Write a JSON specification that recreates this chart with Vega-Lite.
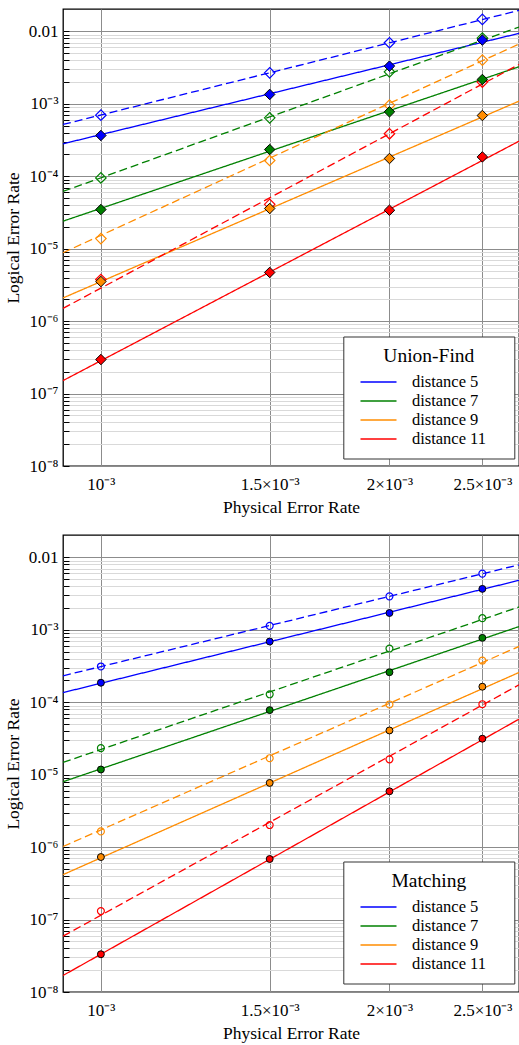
{
  "$schema": "https://vega.github.io/schema/vega-lite/v6.json",
  "padding": {"left": 3, "top": 7, "right": 0, "bottom": 5},
  "autosize": {"type": "pad"},
  "bounds": "flush",
  "spacing": 69,
  "config": {
    "font": "Liberation Serif",
    "view": {"stroke": "black", "strokeWidth": 1.3},
    "axis": {
      "labelFont": "Liberation Serif",
      "titleFont": "Liberation Serif",
      "labelColor": "black",
      "titleColor": "black",
      "titleFontWeight": "normal",
      "labelOverlap": false,
      "labelFlush": false
    },
    "legend": {
      "labelFont": "Liberation Serif",
      "titleFont": "Liberation Serif"
    }
  },
  "resolve": {"scale": {"color": "independent", "fill": "independent", "stroke": "independent"}, "legend": {"color": "independent"}},
  "datasets": {
    "lines": [
      {"panel": "UF", "dist": "distance 5", "style": "solid", "p": 0.000913, "rate": 2.81e-4},
      {"panel": "UF", "dist": "distance 5", "style": "solid", "p": 0.00273, "rate": 9.4e-3},
      {"panel": "UF", "dist": "distance 5", "style": "dashed", "p": 0.000913, "rate": 5.19e-4},
      {"panel": "UF", "dist": "distance 5", "style": "dashed", "p": 0.00273, "rate": 1.95e-2},
      {"panel": "UF", "dist": "distance 7", "style": "solid", "p": 0.000913, "rate": 2.4e-5},
      {"panel": "UF", "dist": "distance 7", "style": "solid", "p": 0.00273, "rate": 3.25e-3},
      {"panel": "UF", "dist": "distance 7", "style": "dashed", "p": 0.000913, "rate": 6.17e-5},
      {"panel": "UF", "dist": "distance 7", "style": "dashed", "p": 0.00273, "rate": 1.15e-2},
      {"panel": "UF", "dist": "distance 9", "style": "solid", "p": 0.000913, "rate": 2.09e-6},
      {"panel": "UF", "dist": "distance 9", "style": "solid", "p": 0.00273, "rate": 1.09e-3},
      {"panel": "UF", "dist": "distance 9", "style": "dashed", "p": 0.000913, "rate": 8.8e-6},
      {"panel": "UF", "dist": "distance 9", "style": "dashed", "p": 0.00273, "rate": 6.7e-3},
      {"panel": "UF", "dist": "distance 11", "style": "solid", "p": 0.000913, "rate": 1.51e-7},
      {"panel": "UF", "dist": "distance 11", "style": "solid", "p": 0.00273, "rate": 3.05e-4},
      {"panel": "UF", "dist": "distance 11", "style": "dashed", "p": 0.000913, "rate": 1.5e-6},
      {"panel": "UF", "dist": "distance 11", "style": "dashed", "p": 0.00273, "rate": 3.5e-3},
      {"panel": "M", "dist": "distance 5", "style": "solid", "p": 0.000913, "rate": 1.36e-4},
      {"panel": "M", "dist": "distance 5", "style": "solid", "p": 0.00273, "rate": 4.83e-3},
      {"panel": "M", "dist": "distance 5", "style": "dashed", "p": 0.000913, "rate": 2.32e-4},
      {"panel": "M", "dist": "distance 5", "style": "dashed", "p": 0.00273, "rate": 7.9e-3},
      {"panel": "M", "dist": "distance 7", "style": "solid", "p": 0.000913, "rate": 8.0e-6},
      {"panel": "M", "dist": "distance 7", "style": "solid", "p": 0.00273, "rate": 1.11e-3},
      {"panel": "M", "dist": "distance 7", "style": "dashed", "p": 0.000913, "rate": 1.48e-5},
      {"panel": "M", "dist": "distance 7", "style": "dashed", "p": 0.00273, "rate": 2.07e-3},
      {"panel": "M", "dist": "distance 9", "style": "solid", "p": 0.000913, "rate": 4.17e-7},
      {"panel": "M", "dist": "distance 9", "style": "solid", "p": 0.00273, "rate": 2.58e-4},
      {"panel": "M", "dist": "distance 9", "style": "dashed", "p": 0.000913, "rate": 1.02e-6},
      {"panel": "M", "dist": "distance 9", "style": "dashed", "p": 0.00273, "rate": 5.9e-4},
      {"panel": "M", "dist": "distance 11", "style": "solid", "p": 0.000913, "rate": 1.69e-8},
      {"panel": "M", "dist": "distance 11", "style": "solid", "p": 0.00273, "rate": 5.85e-5},
      {"panel": "M", "dist": "distance 11", "style": "dashed", "p": 0.000913, "rate": 5.9e-8},
      {"panel": "M", "dist": "distance 11", "style": "dashed", "p": 0.00273, "rate": 1.74e-4}
    ],
    "points": [
      {"panel": "UF", "dist": "distance 5", "kind": "filled", "p": 0.001, "rate": 3.66e-4},
      {"panel": "UF", "dist": "distance 5", "kind": "filled", "p": 0.0015, "rate": 1.35e-3},
      {"panel": "UF", "dist": "distance 5", "kind": "filled", "p": 0.002, "rate": 3.32e-3},
      {"panel": "UF", "dist": "distance 5", "kind": "filled", "p": 0.0025, "rate": 7.6e-3},
      {"panel": "UF", "dist": "distance 7", "kind": "filled", "p": 0.001, "rate": 3.47e-5},
      {"panel": "UF", "dist": "distance 7", "kind": "filled", "p": 0.0015, "rate": 2.34e-4},
      {"panel": "UF", "dist": "distance 7", "kind": "filled", "p": 0.002, "rate": 7.76e-4},
      {"panel": "UF", "dist": "distance 7", "kind": "filled", "p": 0.0025, "rate": 2.17e-3},
      {"panel": "UF", "dist": "distance 9", "kind": "filled", "p": 0.001, "rate": 3.52e-6},
      {"panel": "UF", "dist": "distance 9", "kind": "filled", "p": 0.0015, "rate": 3.59e-5},
      {"panel": "UF", "dist": "distance 9", "kind": "filled", "p": 0.002, "rate": 1.76e-4},
      {"panel": "UF", "dist": "distance 9", "kind": "filled", "p": 0.0025, "rate": 6.9e-4},
      {"panel": "UF", "dist": "distance 11", "kind": "filled", "p": 0.001, "rate": 2.95e-7},
      {"panel": "UF", "dist": "distance 11", "kind": "filled", "p": 0.0015, "rate": 4.7e-6},
      {"panel": "UF", "dist": "distance 11", "kind": "filled", "p": 0.002, "rate": 3.4e-5},
      {"panel": "UF", "dist": "distance 11", "kind": "filled", "p": 0.0025, "rate": 1.85e-4},
      {"panel": "UF", "dist": "distance 5", "kind": "open", "p": 0.001, "rate": 6.98e-4},
      {"panel": "UF", "dist": "distance 5", "kind": "open", "p": 0.0015, "rate": 2.68e-3},
      {"panel": "UF", "dist": "distance 5", "kind": "open", "p": 0.002, "rate": 6.97e-3},
      {"panel": "UF", "dist": "distance 5", "kind": "open", "p": 0.0025, "rate": 1.466e-2},
      {"panel": "UF", "dist": "distance 7", "kind": "open", "p": 0.001, "rate": 9.5e-5},
      {"panel": "UF", "dist": "distance 7", "kind": "open", "p": 0.0015, "rate": 6.41e-4},
      {"panel": "UF", "dist": "distance 7", "kind": "open", "p": 0.002, "rate": 2.77e-3},
      {"panel": "UF", "dist": "distance 7", "kind": "open", "p": 0.0025, "rate": 8.1e-3},
      {"panel": "UF", "dist": "distance 9", "kind": "open", "p": 0.001, "rate": 1.38e-5},
      {"panel": "UF", "dist": "distance 9", "kind": "open", "p": 0.0015, "rate": 1.65e-4},
      {"panel": "UF", "dist": "distance 9", "kind": "open", "p": 0.002, "rate": 9.6e-4},
      {"panel": "UF", "dist": "distance 9", "kind": "open", "p": 0.0025, "rate": 4.02e-3},
      {"panel": "UF", "dist": "distance 11", "kind": "open", "p": 0.001, "rate": 3.76e-6},
      {"panel": "UF", "dist": "distance 11", "kind": "open", "p": 0.0015, "rate": 4.1e-5},
      {"panel": "UF", "dist": "distance 11", "kind": "open", "p": 0.002, "rate": 3.86e-4},
      {"panel": "UF", "dist": "distance 11", "kind": "open", "p": 0.0025, "rate": 2.0e-3},
      {"panel": "M", "dist": "distance 5", "kind": "filled", "p": 0.001, "rate": 1.86e-4},
      {"panel": "M", "dist": "distance 5", "kind": "filled", "p": 0.0015, "rate": 6.9e-4},
      {"panel": "M", "dist": "distance 5", "kind": "filled", "p": 0.002, "rate": 1.71e-3},
      {"panel": "M", "dist": "distance 5", "kind": "filled", "p": 0.0025, "rate": 3.68e-3},
      {"panel": "M", "dist": "distance 7", "kind": "filled", "p": 0.001, "rate": 1.18e-5},
      {"panel": "M", "dist": "distance 7", "kind": "filled", "p": 0.0015, "rate": 7.8e-5},
      {"panel": "M", "dist": "distance 7", "kind": "filled", "p": 0.002, "rate": 2.6e-4},
      {"panel": "M", "dist": "distance 7", "kind": "filled", "p": 0.0025, "rate": 7.75e-4},
      {"panel": "M", "dist": "distance 9", "kind": "filled", "p": 0.001, "rate": 7.3e-7},
      {"panel": "M", "dist": "distance 9", "kind": "filled", "p": 0.0015, "rate": 7.7e-6},
      {"panel": "M", "dist": "distance 9", "kind": "filled", "p": 0.002, "rate": 4.08e-5},
      {"panel": "M", "dist": "distance 9", "kind": "filled", "p": 0.0025, "rate": 1.64e-4},
      {"panel": "M", "dist": "distance 11", "kind": "filled", "p": 0.001, "rate": 3.32e-8},
      {"panel": "M", "dist": "distance 11", "kind": "filled", "p": 0.0015, "rate": 6.86e-7},
      {"panel": "M", "dist": "distance 11", "kind": "filled", "p": 0.002, "rate": 5.9e-6},
      {"panel": "M", "dist": "distance 11", "kind": "filled", "p": 0.0025, "rate": 3.14e-5},
      {"panel": "M", "dist": "distance 5", "kind": "open", "p": 0.001, "rate": 3.12e-4},
      {"panel": "M", "dist": "distance 5", "kind": "open", "p": 0.0015, "rate": 1.135e-3},
      {"panel": "M", "dist": "distance 5", "kind": "open", "p": 0.002, "rate": 2.9e-3},
      {"panel": "M", "dist": "distance 5", "kind": "open", "p": 0.0025, "rate": 5.98e-3},
      {"panel": "M", "dist": "distance 7", "kind": "open", "p": 0.001, "rate": 2.33e-5},
      {"panel": "M", "dist": "distance 7", "kind": "open", "p": 0.0015, "rate": 1.29e-4},
      {"panel": "M", "dist": "distance 7", "kind": "open", "p": 0.002, "rate": 5.52e-4},
      {"panel": "M", "dist": "distance 7", "kind": "open", "p": 0.0025, "rate": 1.45e-3},
      {"panel": "M", "dist": "distance 9", "kind": "open", "p": 0.001, "rate": 1.65e-6},
      {"panel": "M", "dist": "distance 9", "kind": "open", "p": 0.0015, "rate": 1.69e-5},
      {"panel": "M", "dist": "distance 9", "kind": "open", "p": 0.002, "rate": 9.33e-5},
      {"panel": "M", "dist": "distance 9", "kind": "open", "p": 0.0025, "rate": 3.77e-4},
      {"panel": "M", "dist": "distance 11", "kind": "open", "p": 0.001, "rate": 1.31e-7},
      {"panel": "M", "dist": "distance 11", "kind": "open", "p": 0.0015, "rate": 2.02e-6},
      {"panel": "M", "dist": "distance 11", "kind": "open", "p": 0.002, "rate": 1.63e-5},
      {"panel": "M", "dist": "distance 11", "kind": "open", "p": 0.0025, "rate": 9.4e-5}
    ]
  },
  "vconcat": [
    {
      "width": 456,
      "height": 457,
      "layer": [
        {
          "data": {"name": "lines"},
          "transform": [{"filter": "datum.panel === 'UF'"}],
          "mark": {"type": "line", "strokeWidth": 1.3},
          "encoding": {
            "x": {"field": "p", "type": "quantitative", "title": "Physical Error Rate",
              "scale": {"type": "log", "domain": [0.000913, 0.00273], "nice": false},
              "axis": {"values": [0.001, 0.0015, 0.002, 0.0025], "labelExpr": "datum.value < 0.0012 ? '10⁻³' : datum.value < 0.0017 ? '1.5×10⁻³' : datum.value < 0.0022 ? '2×10⁻³' : '2.5×10⁻³'", "grid": true, "gridColor": "#8c8c8c", "gridWidth": 1, "ticks": false, "domain": false, "labelFontSize": 17, "labelPadding": 10, "titleFontSize": 17.5, "titlePadding": 6}},
            "y": {"field": "rate", "type": "quantitative", "title": "Logical Error Rate",
              "scale": {"type": "log", "domain": [1e-8, 0.0204], "nice": false},
              "axis": {"values": [1e-8, 2e-8, 3e-8, 4e-8, 5e-8, 6e-8, 7e-8, 8e-8, 9e-8, 1e-7, 2e-7, 3e-7, 4e-7, 5e-7, 6e-7, 7e-7, 8e-7, 9e-7, 1e-6, 2e-6, 3e-6, 4e-6, 5e-6, 6e-6, 7e-6, 8e-6, 9e-6, 1e-5, 2e-5, 3e-5, 4e-5, 5e-5, 6e-5, 7e-5, 8e-5, 9e-5, 1e-4, 2e-4, 3e-4, 4e-4, 5e-4, 6e-4, 7e-4, 8e-4, 9e-4, 1e-3, 2e-3, 3e-3, 4e-3, 5e-3, 6e-3, 7e-3, 8e-3, 9e-3, 1e-2],
                "labelExpr": "abs(log(datum.value)/LN10 - round(log(datum.value)/LN10)) < 0.001 ? (round(log(datum.value)/LN10) == -2 ? '0.01' : '10⁻' + ['⁰','¹','²','³','⁴','⁵','⁶','⁷','⁸','⁹'][-round(log(datum.value)/LN10)]) : ''",
                "grid": true,
                "gridColor": {"condition": {"test": "abs(log(datum.value)/LN10 - round(log(datum.value)/LN10)) < 0.001", "value": "#8c8c8c"}, "value": "#d9d9d9"},
                "gridWidth": 1, "ticks": true, "tickSize": -6, "tickColor": "black", "tickWidth": 1, "domain": false, "labelFontSize": 17, "labelPadding": 11, "titleFontSize": 17.5, "titlePadding": 6}},
            "color": {"field": "dist", "type": "nominal", "title": "Union-Find",
              "scale": {"domain": ["distance 5", "distance 7", "distance 9", "distance 11"], "range": ["#0000ff", "#008000", "#ff8c00", "#ff0000"]},
              "legend": {"orient": "none", "legendX": 280.3, "legendY": 327.5, "symbolType": "M-2,0H2M13.5,0", "symbolSize": 324, "symbolOffset": 14.7, "symbolStrokeWidth": 1.5, "labelOffset": 23.4, "padding": 10.5, "rowPadding": 0, "titlePadding": 5.5, "strokeColor": "#333333", "fillColor": "white", "titleAnchor": "middle", "titleFontSize": 19.5, "titleFontWeight": "normal", "titleColor": "black", "labelFontSize": 16.5, "labelColor": "black"}},
            "strokeDash": {"field": "style", "type": "nominal", "scale": {"domain": ["solid", "dashed"], "range": [[1, 0], [8, 4]]}, "legend": null}
          }
        },
        {
          "data": {"name": "points"},
          "transform": [{"filter": "datum.panel === 'UF' && datum.kind === 'open'"}],
          "mark": {"type": "point", "shape": "diamond", "filled": false, "size": 110, "strokeWidth": 1.2, "opacity": 1},
          "encoding": {
            "x": {"field": "p", "type": "quantitative"},
            "y": {"field": "rate", "type": "quantitative"},
            "stroke": {"field": "dist", "type": "nominal", "scale": {"domain": ["distance 5", "distance 7", "distance 9", "distance 11"], "range": ["#0000ff", "#008000", "#ff8c00", "#ff0000"]}, "legend": null}
          }
        },
        {
          "data": {"name": "points"},
          "transform": [{"filter": "datum.panel === 'UF' && datum.kind === 'filled'"}],
          "mark": {"type": "point", "shape": "diamond", "filled": true, "size": 110, "stroke": "black", "strokeWidth": 1, "opacity": 1},
          "encoding": {
            "x": {"field": "p", "type": "quantitative"},
            "y": {"field": "rate", "type": "quantitative"},
            "fill": {"field": "dist", "type": "nominal", "scale": {"domain": ["distance 5", "distance 7", "distance 9", "distance 11"], "range": ["#0000ff", "#008000", "#ff8c00", "#ff0000"]}, "legend": null}
          }
        }
      ]
    },
    {
      "width": 456,
      "height": 457,
      "layer": [
        {
          "data": {"name": "lines"},
          "transform": [{"filter": "datum.panel === 'M'"}],
          "mark": {"type": "line", "strokeWidth": 1.3},
          "encoding": {
            "x": {"field": "p", "type": "quantitative", "title": "Physical Error Rate",
              "scale": {"type": "log", "domain": [0.000913, 0.00273], "nice": false},
              "axis": {"values": [0.001, 0.0015, 0.002, 0.0025], "labelExpr": "datum.value < 0.0012 ? '10⁻³' : datum.value < 0.0017 ? '1.5×10⁻³' : datum.value < 0.0022 ? '2×10⁻³' : '2.5×10⁻³'", "grid": true, "gridColor": "#8c8c8c", "gridWidth": 1, "ticks": false, "domain": false, "labelFontSize": 17, "labelPadding": 10, "titleFontSize": 17.5, "titlePadding": 6}},
            "y": {"field": "rate", "type": "quantitative", "title": "Logical Error Rate",
              "scale": {"type": "log", "domain": [1e-8, 0.0204], "nice": false},
              "axis": {"values": [1e-8, 2e-8, 3e-8, 4e-8, 5e-8, 6e-8, 7e-8, 8e-8, 9e-8, 1e-7, 2e-7, 3e-7, 4e-7, 5e-7, 6e-7, 7e-7, 8e-7, 9e-7, 1e-6, 2e-6, 3e-6, 4e-6, 5e-6, 6e-6, 7e-6, 8e-6, 9e-6, 1e-5, 2e-5, 3e-5, 4e-5, 5e-5, 6e-5, 7e-5, 8e-5, 9e-5, 1e-4, 2e-4, 3e-4, 4e-4, 5e-4, 6e-4, 7e-4, 8e-4, 9e-4, 1e-3, 2e-3, 3e-3, 4e-3, 5e-3, 6e-3, 7e-3, 8e-3, 9e-3, 1e-2],
                "labelExpr": "abs(log(datum.value)/LN10 - round(log(datum.value)/LN10)) < 0.001 ? (round(log(datum.value)/LN10) == -2 ? '0.01' : '10⁻' + ['⁰','¹','²','³','⁴','⁵','⁶','⁷','⁸','⁹'][-round(log(datum.value)/LN10)]) : ''",
                "grid": true,
                "gridColor": {"condition": {"test": "abs(log(datum.value)/LN10 - round(log(datum.value)/LN10)) < 0.001", "value": "#8c8c8c"}, "value": "#d9d9d9"},
                "gridWidth": 1, "ticks": true, "tickSize": -6, "tickColor": "black", "tickWidth": 1, "domain": false, "labelFontSize": 17, "labelPadding": 11, "titleFontSize": 17.5, "titlePadding": 6}},
            "color": {"field": "dist", "type": "nominal", "title": "Matching",
              "scale": {"domain": ["distance 5", "distance 7", "distance 9", "distance 11"], "range": ["#0000ff", "#008000", "#ff8c00", "#ff0000"]},
              "legend": {"orient": "none", "legendX": 280.3, "legendY": 326.5, "symbolType": "M-2,0H2M13.5,0", "symbolSize": 324, "symbolOffset": 14.7, "symbolStrokeWidth": 1.5, "labelOffset": 23.4, "padding": 10.5, "rowPadding": 0, "titlePadding": 5.5, "strokeColor": "#333333", "fillColor": "white", "titleAnchor": "middle", "titleFontSize": 19.5, "titleFontWeight": "normal", "titleColor": "black", "labelFontSize": 16.5, "labelColor": "black"}},
            "strokeDash": {"field": "style", "type": "nominal", "scale": {"domain": ["solid", "dashed"], "range": [[1, 0], [8, 4]]}, "legend": null}
          }
        },
        {
          "data": {"name": "points"},
          "transform": [{"filter": "datum.panel === 'M' && datum.kind === 'open'"}],
          "mark": {"type": "point", "shape": "circle", "filled": false, "size": 48, "strokeWidth": 1.2, "opacity": 1},
          "encoding": {
            "x": {"field": "p", "type": "quantitative"},
            "y": {"field": "rate", "type": "quantitative"},
            "stroke": {"field": "dist", "type": "nominal", "scale": {"domain": ["distance 5", "distance 7", "distance 9", "distance 11"], "range": ["#0000ff", "#008000", "#ff8c00", "#ff0000"]}, "legend": null}
          }
        },
        {
          "data": {"name": "points"},
          "transform": [{"filter": "datum.panel === 'M' && datum.kind === 'filled'"}],
          "mark": {"type": "point", "shape": "circle", "filled": true, "size": 48, "stroke": "black", "strokeWidth": 1, "opacity": 1},
          "encoding": {
            "x": {"field": "p", "type": "quantitative"},
            "y": {"field": "rate", "type": "quantitative"},
            "fill": {"field": "dist", "type": "nominal", "scale": {"domain": ["distance 5", "distance 7", "distance 9", "distance 11"], "range": ["#0000ff", "#008000", "#ff8c00", "#ff0000"]}, "legend": null}
          }
        }
      ]
    }
  ]
}
